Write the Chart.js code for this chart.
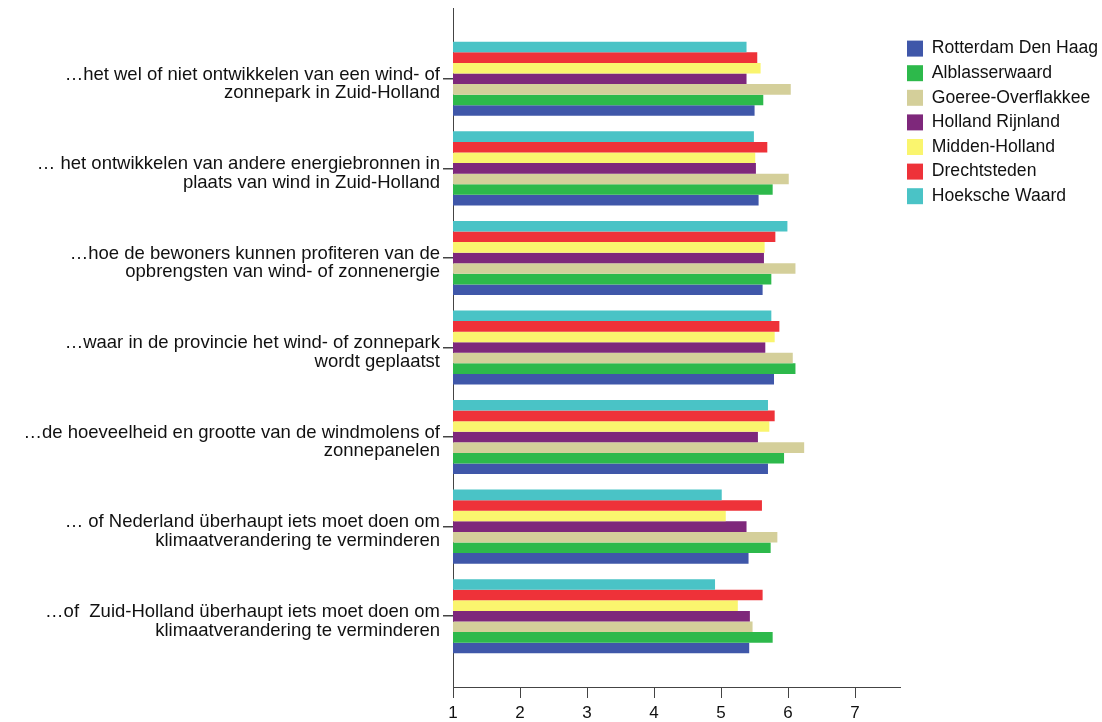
<!DOCTYPE html>
<html>
<head>
<meta charset="utf-8">
<script src="https://cdn.jsdelivr.net/npm/chart.js@4.4.1/dist/chart.umd.min.js"></script>
<style>
  html, body { margin: 0; padding: 0; background: #fff; }
  #wrap { width: 1102px; height: 722px; }
</style>
</head>
<body>
<div id="wrap"><canvas id="chart" width="1102" height="722"></canvas></div>
<script>
// categories (top to bottom)
var categories = [
    ['\u2026het wel of niet ontwikkelen van een wind- of', 'zonnepark in Zuid-Holland'],
    ['\u2026 het ontwikkelen van andere energiebronnen in', 'plaats van wind in Zuid-Holland'],
    ['\u2026hoe de bewoners kunnen profiteren van de', 'opbrengsten van wind- of zonnenergie'],
    ['\u2026waar in de provincie het wind- of zonnepark', 'wordt geplaatst'],
    ['\u2026de hoeveelheid en grootte van de windmolens of', 'zonnepanelen'],
    ['\u2026 of Nederland \u00fcberhaupt iets moet doen om', 'klimaatverandering te verminderen'],
    ['\u2026of  Zuid-Holland \u00fcberhaupt iets moet doen om', 'klimaatverandering te verminderen']
];

var regions = ['Rotterdam Den Haag', 'Alblasserwaard', 'Goeree-Overflakkee', 'Holland Rijnland', 'Midden-Holland', 'Drechtsteden', 'Hoeksche Waard'];
var colors = ['#3F57A9', '#2DB94B', '#D4CF9A', '#7E287B', '#FAF56E', '#EE3239', '#4AC3C6'];

// mean score per category, one array per region
var rotterdamDenHaag  = [5.50, 5.56, 5.62, 5.79, 5.70, 5.41, 5.42];
var alblasserwaard    = [5.63, 5.77, 5.75, 6.11, 5.94, 5.74, 5.77];
var goereeOverflakkee = [6.04, 6.01, 6.11, 6.07, 6.24, 5.84, 5.47];
var hollandRijnland   = [5.38, 5.52, 5.64, 5.66, 5.55, 5.38, 5.43];
var middenHolland     = [5.59, 5.51, 5.65, 5.80, 5.72, 5.07, 5.25];
var drechtsteden      = [5.54, 5.69, 5.81, 5.87, 5.80, 5.61, 5.62];
var hoekscheWaard     = [5.38, 5.49, 5.99, 5.75, 5.70, 5.01, 4.91];

var seriesValues = [rotterdamDenHaag, alblasserwaard, goereeOverflakkee, hollandRijnland, middenHolland, drechtsteden, hoekscheWaard];

var xTicks = [1, 2, 3, 4, 5, 6, 7];

var fontFamily = '"Liberation Sans", Arial, sans-serif';
var axisColor = '#444';

// last region drawn on top of each group, so datasets go in reverse order
var datasets = [];
for (var s = seriesValues.length - 1; s >= 0; s--) {
    datasets.push({
        label: regions[s],
        data: seriesValues[s].map(function (v, i) { return { x: v, y: i }; }),
        backgroundColor: colors[s],
        borderWidth: 0,
        categoryPercentage: 0.827,
        barPercentage: 1.0
    });
}

var ctx = document.getElementById('chart').getContext('2d');
new Chart(ctx, {
    type: 'bar',
    data: { datasets: datasets },
    options: {
        indexAxis: 'y',
        responsive: false,
        animation: false,
        layout: { padding: { top: 8, left: 0, right: 0, bottom: 0 } },
        scales: {
            x: {
                type: 'linear',
                min: 1,
                max: 7.67,
                afterBuildTicks: function (axis) {
                    axis.ticks = xTicks.map(function (v) { return { value: v }; });
                },
                afterFit: function (axis) {
                    axis.height = 35;
                    axis.paddingLeft = 0;
                    axis.paddingRight = 0;
                },
                grid: { display: true, drawOnChartArea: false, drawTicks: true, tickLength: 11, color: axisColor },
                border: { display: true, color: axisColor, width: 1 },
                ticks: { color: '#111', font: { family: fontFamily, size: 17, lineHeight: 1.0 }, padding: 7, maxRotation: 0 }
            },
            y: {
                type: 'linear',
                min: -0.79,
                max: 6.79,
                reverse: true,
                offset: false,
                afterBuildTicks: function (axis) {
                    axis.ticks = categories.map(function (c, i) { return { value: i }; });
                },
                afterFit: function (axis) {
                    axis.width = 453;
                    axis.paddingTop = 0;
                    axis.paddingBottom = 0;
                },
                grid: { display: true, offset: false, drawOnChartArea: false, drawTicks: true, tickLength: 10, lineWidth: 1.5, color: axisColor },
                border: { display: true, color: axisColor, width: 1 },
                ticks: {
                    color: '#111',
                    font: { family: fontFamily, size: 18.5, lineHeight: 1.0 },
                    padding: 3,
                    labelOffset: 5,
                    callback: function (value) { return categories[value]; }
                }
            }
        },
        plugins: {
            legend: {
                position: 'right',
                align: 'start',
                reverse: true,
                maxWidth: 202,
                title: { display: true, text: ' ', padding: 4, font: { size: 14 } },
                labels: {
                    boxWidth: 16,
                    boxHeight: 16,
                    padding: 7,
                    color: '#111',
                    font: { family: fontFamily, size: 17.6 }
                }
            },
            tooltip: { enabled: false }
        }
    }
});
</script>
</body>
</html>
